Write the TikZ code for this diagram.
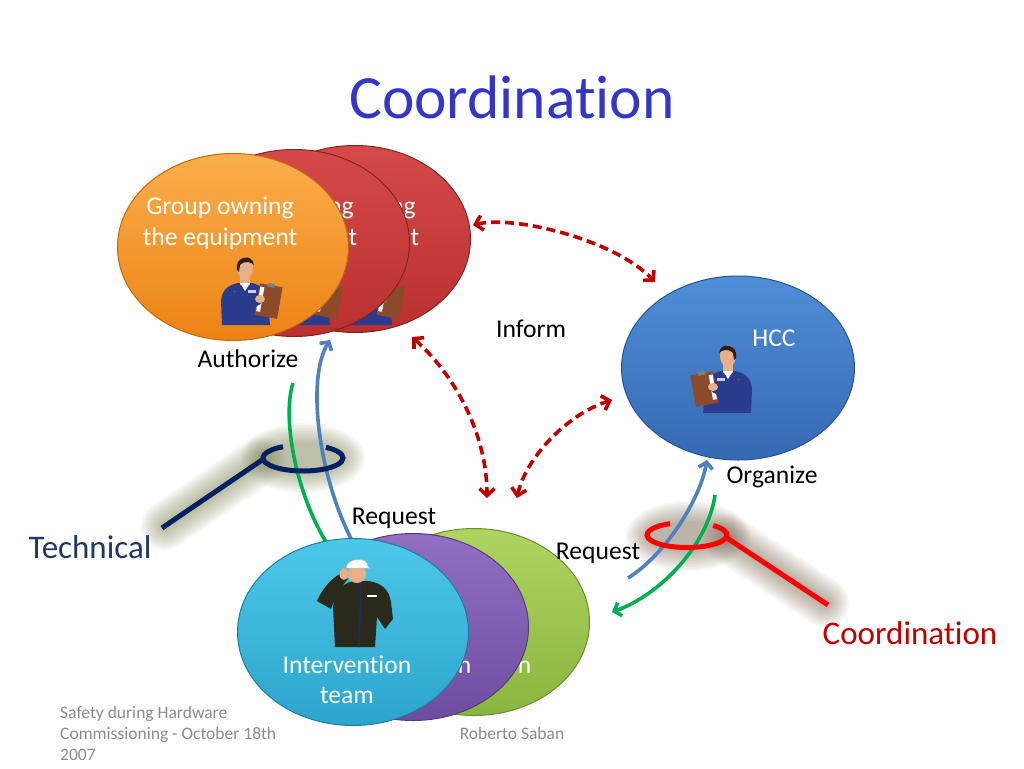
\documentclass[tikz,border=0pt]{standalone}
\usepackage{fontspec}
\setmainfont{Carlito}[Ligatures=NoCommon]
\usetikzlibrary{shapes.geometric,arrows.meta}
\definecolor{titleblue}{HTML}{3535C6}
\definecolor{dred}{HTML}{C00000}
\definecolor{ablue}{HTML}{4F81BD}
\definecolor{agreen}{HTML}{00B050}
\definecolor{navy}{HTML}{002060}
\definecolor{technavy}{HTML}{1F3864}
\definecolor{rred}{HTML}{FF0000}
\definecolor{coordred}{HTML}{C00000}
\definecolor{footgray}{HTML}{8C8C8C}
\definecolor{olivesh}{HTML}{7A7D50}
\definecolor{brownsh}{HTML}{7A6650}
\definecolor{orT}{HTML}{FBAE4C}\definecolor{orB}{HTML}{EC8314}\definecolor{orD}{HTML}{C06A10}
\definecolor{reT}{HTML}{D44A48}\definecolor{reB}{HTML}{B8302F}\definecolor{reD}{HTML}{8A2020}
\definecolor{blT}{HTML}{4F8ED8}\definecolor{blB}{HTML}{3668B4}\definecolor{blD}{HTML}{2A5590}
\definecolor{cyT}{HTML}{4CC8EA}\definecolor{cyB}{HTML}{2CA4CC}\definecolor{cyD}{HTML}{1F7E9E}
\definecolor{puT}{HTML}{9170C4}\definecolor{puB}{HTML}{6E4DA0}\definecolor{puD}{HTML}{553A7E}
\definecolor{grT}{HTML}{AFD462}\definecolor{grB}{HTML}{8AB53E}\definecolor{grD}{HTML}{6A8E2C}
\definecolor{skin}{HTML}{E8B088}
\definecolor{hair}{HTML}{2E2018}
\definecolor{jacket}{HTML}{2B3C8E}
\definecolor{board}{HTML}{8B4A2A}
\definecolor{badge}{HTML}{C8D0E4}
\definecolor{wcloth}{HTML}{2A2A1C}
\definecolor{zip}{HTML}{1C2A66}
\tikzset{
  ell/.style={ellipse, inner sep=0pt, minimum width=231pt, minimum height=187pt, line width=1pt},
  wtext/.style={text=white, font=\fontsize{25.6}{30}\selectfont, anchor=base, inner sep=0pt},
  lbl/.style={text=black, font=\fontsize{25.6}{30}\selectfont, anchor=base, inner sep=0pt},
  foot/.style={text=footgray, font=\fontsize{17.5}{21}\selectfont, anchor=base west, inner sep=0pt},
  dasharrow/.style={draw=dred, line width=3.6pt, dash pattern=on 9pt off 5pt,
     {Straight Barb[length=7pt,width=15pt]}-{Straight Barb[length=7pt,width=15pt]}},
  bluearrow/.style={draw=ablue, line width=3.6pt, -{Straight Barb[length=6pt,width=14pt]}},
  greenarrow/.style={draw=agreen, line width=3.6pt, -{Straight Barb[length=6pt,width=14pt]}},
  clerk/.pic={
    \fill[jacket] (4,70) -- (3,46) .. controls (4,35) and (10,30) .. (20,28) -- (34,28) .. controls (44,30) and (48,36) .. (50,48) -- (52,70) -- cycle;
    \fill[skin] (22,20) rectangle (32,30);
    \fill[white] (22,28) -- (27,36) -- (32,28) -- cycle;
    \fill[skin] (27,13) ellipse[x radius=8, y radius=11];
    \fill[hair] (19,15) .. controls (16,2) and (34,-3) .. (36,10) .. controls (33,7) and (27,5) .. (22,10) -- (21,17) -- cycle;
    \fill[badge] (9,36) rectangle (17,39);
    \fill[badge] (30,35) rectangle (38,38);
    \fill[board, rotate around={-10:(50,46)}] (39,30) rectangle (62,62);
    \fill[white, rotate around={-10:(50,46)}] (40,33) rectangle (44,58);
    \fill[gray, rotate around={-10:(50,46)}] (47,28) rectangle (54,32);
    \draw[jacket, line width=8pt, line cap=round] (12,36) .. controls (18,52) and (30,52) .. (40,46);
    \fill[skin] (42,44) ellipse[x radius=5, y radius=4];
  },
  worker/.pic={
    \fill[wcloth] (18,90) -- (16,50) .. controls (18,32) and (28,24) .. (40,24) -- (52,24) .. controls (64,26) and (72,32) .. (74,45) -- (76,62) -- (68,72) -- (60,60) -- (58,90) -- cycle;
    \fill[wcloth] (0,44) .. controls (6,30) and (16,20) .. (25,16) -- (31,22) .. controls (24,30) and (18,40) .. (14,52) -- cycle;
    \fill[skin] (40,17) ellipse[x radius=9, y radius=9];
    \fill[white, draw=gray!60, line width=0.5pt] (29,11) .. controls (29,1) and (51,-1) .. (51,9) -- (53,11) -- cycle;
    \fill[skin] (27,17) ellipse[x radius=4.5, y radius=6];
    \draw[zip, line width=1.5pt] (44,28) -- (42,90);
    \fill[white] (50,38) rectangle (60,40);
  }
}
\begin{document}
\begin{tikzpicture}[x=1pt,y=-1pt]
\useasboundingbox[fill=white] (0,0) rectangle (1024,768);

% title
\node[text=titleblue, font=\fontsize{61.5}{70}\selectfont, anchor=base, inner sep=0pt] (title) at (512,118) {Coordination};

% soft shadows of the two rings
\foreach \w in {48,44,40,36,32,28,24,20,16,12,8}{
  \draw[olivesh, opacity=0.055, line width=\w pt, line cap=round] (165,526) -- (262,460);
  \fill[olivesh, opacity=0.055] (303,458) ellipse[x radius=38+\w/2, y radius=11+\w/2];
  \draw[brownsh, opacity=0.055, line width=\w pt, line cap=round] (727,538) -- (825,603);
  \fill[brownsh, opacity=0.055] (688,536) ellipse[x radius=38+\w/2, y radius=11+\w/2];
}

% connector end points
\coordinate (a1s) at (473,225); \coordinate (a1e) at (655,282);
\coordinate (a2s) at (412,337); \coordinate (a2e) at (487,498);
\coordinate (a3s) at (517,498); \coordinate (a3e) at (612,400);
\coordinate (bl1) at (356,548); \coordinate (bl2) at (330,340);
\coordinate (gl1) at (293,383); \coordinate (gl2) at (337,558);
\coordinate (br1) at (628,578); \coordinate (br2) at (707,460);
\coordinate (gr1) at (715,495); \coordinate (gr2) at (612,612);

% red dashed connectors
\draw[dasharrow] (a1s) .. controls (515,215) and (615,240) .. (a1e);
\draw[dasharrow] (a2s) .. controls (460,380) and (487,440) .. (a2e);
\draw[dasharrow] (a3s) .. controls (525,460) and (565,415) .. (a3e);

% blue / green connectors
\draw[greenarrow] (gl1) .. controls (281,420) and (298,505) .. (gl2);
\draw[bluearrow] (bl1) .. controls (318,480) and (306,378) .. (bl2);
\draw[bluearrow] (br1) .. controls (665,555) and (700,500) .. (br2);
\draw[greenarrow] (gr1) .. controls (708,545) and (660,595) .. (gr2);

% rings
\draw[navy, line width=5pt] (262,460) -- (162,528);
\draw[navy, line width=5pt] (303,458) ++(-120:40 and 13) arc[start angle=-120, end angle=-415, x radius=40, y radius=13];
\draw[rred, line width=5pt] (727,538) -- (828,605);
\draw[rred, line width=5pt] (687,535) ++(-115:40 and 12.5) arc[start angle=-115, end angle=-409, x radius=40, y radius=12.5];

% top-left group
\node[ell, top color=reT, bottom color=reB, draw=reD] (own3) at (355,239) {};
\node[wtext] (own3a) at (342,214) {Group owning};
\node[wtext] (own3b) at (342,245) {the equipment};
\pic at (340,255) {clerk};
\node[ell, top color=reT, bottom color=reB, draw=reD] (own2) at (294,243) {};
\node[wtext] (own2a) at (280,214) {Group owning};
\node[wtext] (own2b) at (280,245) {the equipment};
\pic at (278,255) {clerk};
\node[ell, top color=orT, bottom color=orB, draw=orD] (own1) at (233,247) {};
\node[wtext] (own1a) at (220,214) {Group owning};
\node[wtext] (own1b) at (220,245) {the equipment};
\pic at (218,255) {clerk};

% HCC
\node[ell, top color=blT, bottom color=blB, draw=blD, minimum width=233pt, minimum height=184pt] (hcc) at (738,368) {};
\node[wtext] (hcct) at (774,346) {HCC};
\pic[xscale=-1] at (755,343) {clerk};

% bottom group
\node[ell, top color=grT, bottom color=grB, draw=grD] (int3) at (474,622) {};
\node[wtext] (int3a) at (467,673) {Intervention};
\pic at (437,557) {worker};
\node[ell, top color=puT, bottom color=puB, draw=puD] (int2) at (413,627) {};
\node[wtext] (int2a) at (407,673) {Intervention};
\pic at (377,557) {worker};
\node[ell, top color=cyT, bottom color=cyB, draw=cyD] (int1) at (353,632) {};
\node[wtext] (int1a) at (347,673) {Intervention};
\node[wtext] (int1b) at (347,703) {team};
\pic at (317,557) {worker};

% labels
\node[lbl] (auth) at (248,367) {Authorize};
\node[lbl] (inform) at (531,337) {Inform};
\node[lbl] (org) at (772,483) {Organize};
\node[lbl] (req1) at (394,524) {Request};
\node[lbl] (req2) at (598,559) {Request};
\node[text=technavy, font=\fontsize{33}{38}\selectfont, anchor=base, inner sep=0pt] (tech) at (90,558) {Technical};
\node[text=coordred, font=\fontsize{33}{38}\selectfont, anchor=base, inner sep=0pt] (coord) at (910,644) {Coordination};

% footer
\node[foot] (f1) at (60,718) {Safety during Hardware};
\node[foot] (f2) at (60,739) {Commissioning - October 18th};
\node[foot] (f3) at (60,760) {2007};
\node[text=footgray, font=\fontsize{17.5}{21}\selectfont, anchor=base, inner sep=0pt] (f4) at (512,739) {Roberto Saban};
\end{tikzpicture}
\end{document}
